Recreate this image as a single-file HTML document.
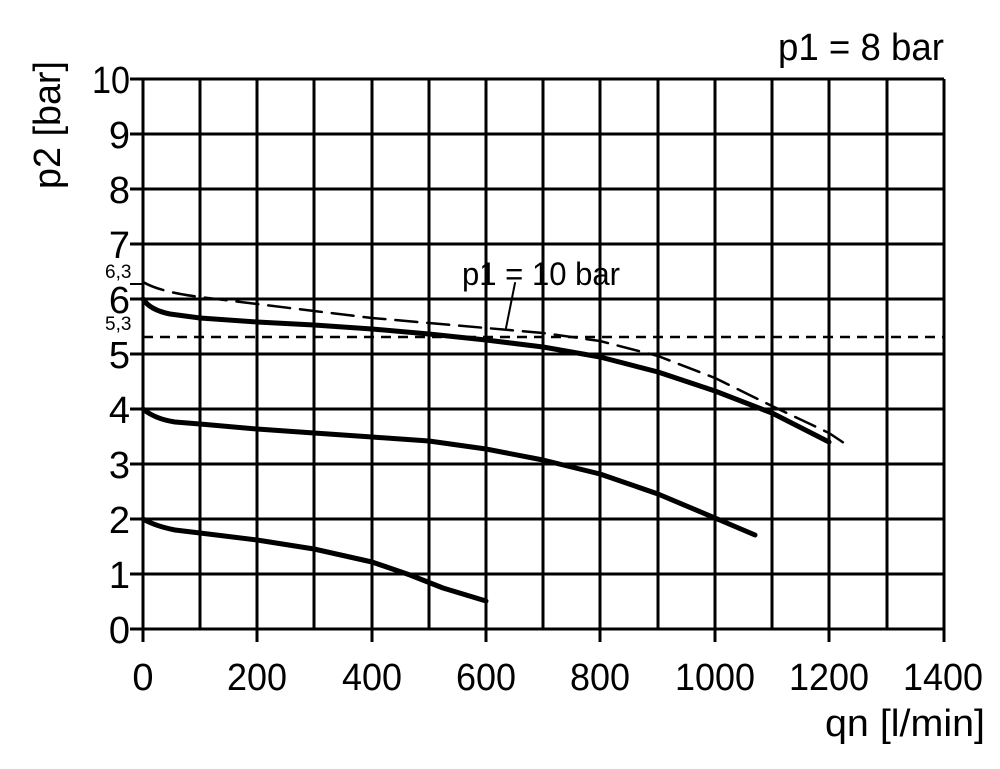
<!DOCTYPE html>
<html><head><style>body{margin:0;background:#fff}</style></head><body>
<svg width="1000" height="764" xmlns="http://www.w3.org/2000/svg" font-family="Liberation Sans, sans-serif">
<rect width="1000" height="764" fill="#fff"/>
<g stroke="#000" stroke-width="3">
<path d="M143,79V642M200,79V629M257,79V642M314,79V629M372,79V642M429,79V629M486,79V642M543,79V629M600,79V642M658,79V629M715,79V642M772,79V629M829,79V642M887,79V629M944,79V642"/>
<path d="M130,79H944M130,134H944M130,189H944M130,244H944M130,299H944M130,354H944M130,409H944M130,464H944M130,519H944M130,574H944M130,629H944"/>
<path d="M130,284H143" stroke-width="2"/>
</g>
<path d="M143,337H944" stroke="#000" stroke-width="2.5" stroke-dasharray="10,7"/>
<g fill="none" stroke="#000" stroke-linecap="round" stroke-linejoin="round">
<path stroke-width="5" d="M143,299 Q150,310 170,314 L200,318 L257,322 L314,325 L372,329 L429,334 L486,340 L543,347 L600,357 L658,372 L715,391 L772,413 L829,442"/>
<path stroke-width="2.5" stroke-dasharray="22,10" d="M143,282 Q160,292 200,297 L257,304 L314,311 L372,318 L429,323 L486,328 L543,333 L600,341 L658,356 L715,378 L772,406 L829,433 L847,445"/>
<path stroke-width="5" d="M143,409 Q155,419 175,422 L200,424 L257,429 L314,433 L372,437 L429,441 L486,449 L543,460 L600,474 L658,494 L715,518 L755,535"/>
<path stroke-width="5" d="M143,519 Q155,526 175,530 L200,533 L257,540 L314,549 L372,562 L410,575 L443,588 L486,601"/>
<path stroke-width="2" d="M515,283 L506,328"/>
</g>
<g font-size="38" text-anchor="end" fill="#000">
<text x="130" y="93" textLength="38" lengthAdjust="spacingAndGlyphs">10</text><text x="130" y="148">9</text><text x="130" y="203">8</text><text x="130" y="258">7</text><text x="130" y="313">6</text><text x="130" y="368">5</text><text x="130" y="423">4</text><text x="130" y="478">3</text><text x="130" y="533">2</text><text x="130" y="588">1</text><text x="130" y="643">0</text>
</g>
<g font-size="38" text-anchor="middle" fill="#000">
<text x="143" y="690">0</text>
<text x="257" y="690" textLength="60" lengthAdjust="spacingAndGlyphs">200</text>
<text x="372" y="690" textLength="60" lengthAdjust="spacingAndGlyphs">400</text>
<text x="486" y="690" textLength="60" lengthAdjust="spacingAndGlyphs">600</text>
<text x="600" y="690" textLength="60" lengthAdjust="spacingAndGlyphs">800</text>
<text x="715" y="690" textLength="80" lengthAdjust="spacingAndGlyphs">1000</text>
<text x="829" y="690" textLength="80" lengthAdjust="spacingAndGlyphs">1200</text>
<text x="943" y="690" textLength="80" lengthAdjust="spacingAndGlyphs">1400</text>
</g>
<g font-size="19" fill="#000"><text x="105" y="278">6,3</text><text x="105" y="330">5,3</text></g>
<text x="825" y="736" font-size="38" textLength="160" lengthAdjust="spacingAndGlyphs">qn [l/min]</text>
<text x="778" y="60" font-size="38" textLength="166" lengthAdjust="spacingAndGlyphs">p1 = 8 bar</text>
<text x="462" y="285" font-size="32" textLength="158" lengthAdjust="spacingAndGlyphs">p1 = 10 bar</text>
<text transform="translate(60,125) rotate(-90)" font-size="38" text-anchor="middle" textLength="128" lengthAdjust="spacingAndGlyphs">p2 [bar]</text>
</svg>
</body></html>
